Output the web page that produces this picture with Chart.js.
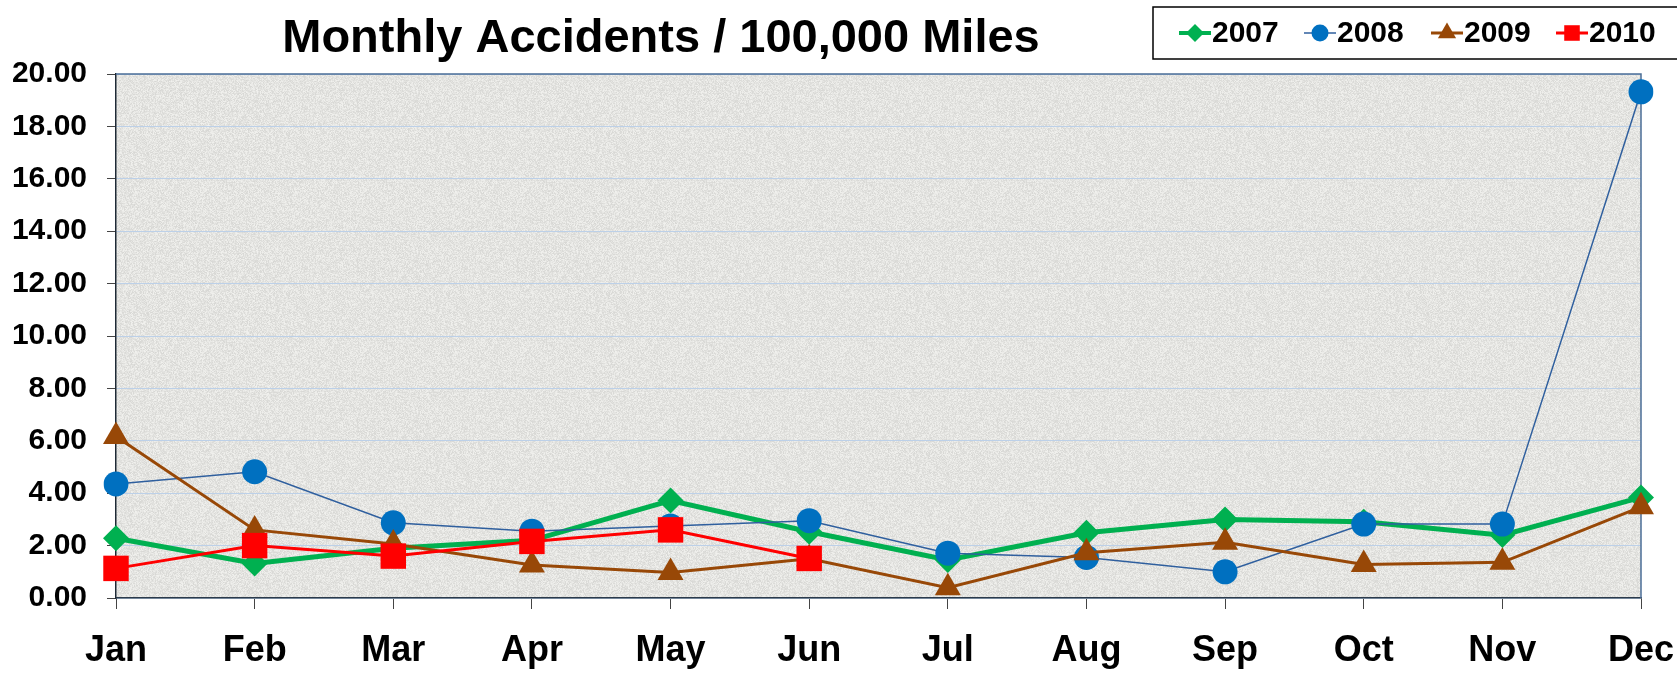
<!DOCTYPE html>
<html>
<head>
<meta charset="utf-8">
<script src="https://cdn.jsdelivr.net/npm/chart.js@4"></script>
<style>
  body { margin: 0; background: #fff; }
</style>
</head>
<body>
<canvas id="accidentChart" width="1677" height="673"></canvas>
<script>
// Monthly accidents per 100,000 miles
const months = ["Jan", "Feb", "Mar", "Apr", "May", "Jun", "Jul", "Aug", "Sep", "Oct", "Nov", "Dec"];
const acc2007 = [2.28, 1.32, 1.90, 2.20, 3.72, 2.53, 1.45, 2.49, 3.00, 2.91, 2.40, 3.84];
const acc2008 = [4.35, 4.82, 2.87, 2.55, 2.75, 2.95, 1.71, 1.55, 1.00, 2.82, 2.82, 19.32];
const acc2009 = [6.16, 2.60, 2.06, 1.26, 0.97, 1.50, 0.39, 1.73, 2.13, 1.28, 1.36, 3.48];
const acc2010 = [1.13, 2.00, 1.60, 2.16, 2.60, 1.51];

const FONT = "'Liberation Sans', Arial, sans-serif";

// petit motif granuleux pour le fond (bruit déterministe, pas des données)
function makeGrain() {
  const c = document.createElement("canvas");
  c.width = 160;
  c.height = 160;
  const g = c.getContext("2d");
  const img = g.createImageData(160, 160);
  for (let i = 0; i < 160 * 160; i++) {
    const h = Math.sin(i * 12.9898 + (i % 160) * 78.233) * 43758.5453;
    const n = h - Math.floor(h);
    const v = Math.round(226 + (n - 0.5) * 26);
    img.data[i * 4] = v + 2;
    img.data[i * 4 + 1] = v + 2;
    img.data[i * 4 + 2] = v - 1;
    img.data[i * 4 + 3] = 255;
  }
  g.putImageData(img, 0, 0);
  return c;
}
const grain = makeGrain();

// fond gris du graphique + cadre
const plotFrame = {
  id: "plotFrame",
  beforeDraw(chart) {
    const { ctx, chartArea: a } = chart;
    ctx.save();
    ctx.fillStyle = ctx.createPattern(grain, "repeat");
    ctx.fillRect(a.left, a.top, a.right - a.left, a.bottom - a.top);
    ctx.restore();
  },
  beforeDatasetsDraw(chart) {
    const { ctx, chartArea: a } = chart;
    ctx.save();
    ctx.strokeStyle = "#4b6e96";
    ctx.lineWidth = 1.5;
    ctx.beginPath();
    ctx.moveTo(a.left, a.top);
    ctx.lineTo(a.right, a.top);
    ctx.lineTo(a.right, a.bottom);
    ctx.stroke();
    ctx.restore();
  },
};

// titre + légende dessinés à la main
const titleAndLegend = {
  id: "titleAndLegend",
  afterDraw(chart) {
    const ctx = chart.ctx;
    ctx.save();
    ctx.fillStyle = "#000";
    ctx.font = "bold 47px " + FONT;
    ctx.textAlign = "center";
    ctx.textBaseline = "middle";
    ctx.fillText("Monthly Accidents / 100,000 Miles", 661, 39);

    // boîte de légende
    ctx.strokeStyle = "#000";
    ctx.lineWidth = 1.5;
    ctx.strokeRect(1153, 7, 530, 52);

    const pos = [1195, 1320, 1447, 1572];
    const sizes = [9, 8.5, 10.5, 11];
    ctx.font = "bold 30px " + FONT;
    ctx.textAlign = "left";
    chart.data.datasets.forEach((ds, i) => {
      const cx = pos[i];
      const cy = 33;
      ctx.strokeStyle = ds.borderColor;
      ctx.lineWidth = Math.min(ds.borderWidth, 4);
      ctx.beginPath();
      ctx.moveTo(cx - 16, cy);
      ctx.lineTo(cx + 16, cy);
      ctx.stroke();
      ctx.fillStyle = ds.pointBackgroundColor;
      Chart.helpers.drawPoint(ctx, { pointStyle: ds.pointStyle, radius: sizes[i], rotation: 0, borderWidth: 0 }, cx, cy);
      ctx.fillStyle = "#000";
      ctx.fillText(ds.label, cx + 17, cy + 1);
    });
    ctx.restore();
  },
};

const ctx = document.getElementById("accidentChart").getContext("2d");
new Chart(ctx, {
  type: "line",
  data: {
    labels: months,
    datasets: [
      {
        label: "2007",
        data: acc2007,
        borderColor: "#00b050",
        borderWidth: 5,
        pointStyle: "rectRot",
        pointRadius: 13,
        pointBackgroundColor: "#00b050",
        pointBorderWidth: 0,
        order: 4,
      },
      {
        label: "2008",
        data: acc2008,
        borderColor: "#2f5f9e",
        borderWidth: 1.5,
        pointStyle: "circle",
        pointRadius: 12.5,
        pointBackgroundColor: "#0070c0",
        pointBorderWidth: 0,
        order: 3,
      },
      {
        label: "2009",
        data: acc2009,
        borderColor: "#984807",
        borderWidth: 3,
        pointStyle: "triangle",
        pointRadius: 15,
        pointBackgroundColor: "#984807",
        pointBorderWidth: 0,
        order: 2,
      },
      {
        label: "2010",
        data: acc2010,
        borderColor: "#ff0000",
        borderWidth: 3,
        pointStyle: "rect",
        pointRadius: 18,
        pointBackgroundColor: "#ff0000",
        pointBorderWidth: 0,
        order: 1,
      },
    ],
  },
  options: {
    responsive: false,
    animation: false,
    layout: { padding: { top: 74, right: 36, left: 0, bottom: 0 } },
    plugins: {
      legend: { display: false },
      title: { display: false },
      tooltip: { enabled: false },
    },
    elements: { line: { tension: 0 } },
    scales: {
      x: {
        offset: false,
        afterFit: (s) => {
          s.height = 75;
          s.paddingLeft = 0;
          s.paddingRight = 0;
        },
        border: { display: true, color: "#2b3a4a", width: 1.5 },
        grid: { drawOnChartArea: false, drawTicks: true, tickLength: 11, tickColor: "#444" },
        ticks: {
          color: "#000",
          font: { family: FONT, size: 36, weight: "bold" },
          padding: 20,
          autoSkip: false,
          maxRotation: 0,
        },
      },
      y: {
        min: 0,
        max: 20,
        afterFit: (s) => { s.width = 116; },
        border: { display: true, color: "#1f2a36", width: 1.5 },
        grid: {
          color: "#bcd0e8",
          lineWidth: 1,
          borderDash: [4, 3],
          tickColor: "#444",
          tickLength: 9,
          tickBorderDash: [],
        },
        ticks: {
          stepSize: 2,
          color: "#000",
          font: { family: FONT, size: 30, weight: "bold" },
          padding: 20,
          callback: (v) => v.toFixed(2),
        },
      },
    },
  },
  plugins: [plotFrame, titleAndLegend],
});
</script>
</body>
</html>
